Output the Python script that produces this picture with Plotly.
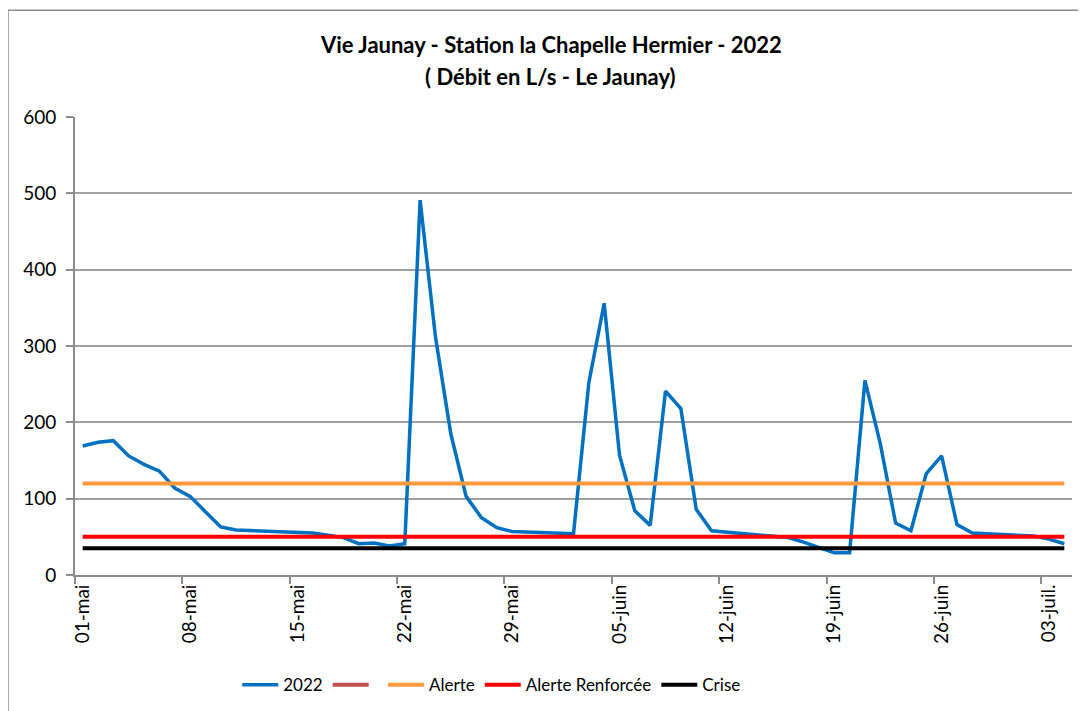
import pandas as pd
import plotly.graph_objects as go

# ---- data ----
dates = pd.date_range("2022-05-01", "2022-07-04", freq="D")

debit_2022 = [169, 174, 176, 156, 145, 136, 114, 103, 83, 63,
              59, 58, 57, 57, 56, 55, 52, 49, 41, 42,
              38, 41, 491, 312, 185, 103, 75, 62, 57, 56,
              55, 54, 54, 252, 356, 157, 84, 65, 241, 218,
              86, 58, 56, 55, 53, 51, 49, 43, 36, 29,
              29, 255, 172, 68, 58, 133, 156, 66, 55, 54,
              53, 52, 51, 47, 41]

ALERTE = 120
ALERTE_RENFORCEE = 50
CRISE = 35

tick_dates = ["2022-05-01", "2022-05-08", "2022-05-15", "2022-05-22", "2022-05-29",
              "2022-06-05", "2022-06-12", "2022-06-19", "2022-06-26", "2022-07-03"]
tick_labels = ["01-mai", "08-mai", "15-mai", "22-mai", "29-mai",
               "05-juin", "12-juin", "19-juin", "26-juin", "03-juil."]

y_ticks = [0, 100, 200, 300, 400, 500, 600]

# ---- figure ----
n = len(dates)
FONT = "Lato"

fig = go.Figure()
fig.add_trace(go.Scatter(x=dates, y=debit_2022, mode="lines", name="2022",
                         line=dict(color="#0070C0", width=3.5)))
fig.add_trace(go.Scatter(x=[None], y=[None], mode="lines", name=" ",
                         line=dict(color="#C0504D", width=4)))
fig.add_trace(go.Scatter(x=dates, y=[ALERTE] * n, mode="lines", name="Alerte",
                         line=dict(color="#FF9A3C", width=4)))
fig.add_trace(go.Scatter(x=dates, y=[ALERTE_RENFORCEE] * n, mode="lines",
                         name="Alerte Renforcée", line=dict(color="#FF0000", width=4)))
fig.add_trace(go.Scatter(x=dates, y=[CRISE] * n, mode="lines", name="Crise",
                         line=dict(color="#000000", width=4)))

boundaries = [d - pd.Timedelta(hours=12) for d in pd.to_datetime(tick_dates)]

# the page places the figure 8px from the top-left corner; margins compensate
fig.update_layout(
    width=1086, height=711,
    margin=dict(l=67, r=21.5, t=109, b=144, autoexpand=False),
    paper_bgcolor="white", plot_bgcolor="white",
    font=dict(family=FONT, size=17, color="black"),
    showlegend=True,
    legend=dict(orientation="h", x=0.418, xanchor="center", y=-0.2405, yanchor="middle",
                font=dict(size=17), itemwidth=36, tracegroupgap=0),
    xaxis=dict(
        type="date",
        range=[dates[0] - pd.Timedelta(hours=12), dates[-1] + pd.Timedelta(hours=12)],
        tickmode="array", tickvals=tick_dates, ticktext=tick_labels,
        tickangle=-90, ticks="", showgrid=False,
        showline=True, linecolor="#8C8C8C", linewidth=2,
        tickfont=dict(size=19),
        minor=dict(tickmode="array", tickvals=boundaries, ticks="outside",
                   ticklen=7, tickcolor="#8C8C8C", tickwidth=1.5, showgrid=False),
        zeroline=False,
    ),
    yaxis=dict(
        range=[0, 600], tickmode="array", tickvals=y_ticks,
        ticks="outside", ticklen=7, tickcolor="#8C8C8C", tickwidth=1.5,
        showgrid=True, gridcolor="#A0A0A0", gridwidth=1.5,
        showline=True, linecolor="#8C8C8C", linewidth=2,
        zeroline=False, tickfont=dict(size=19), ticklabelstandoff=6,
    ),
    annotations=[
        dict(text="<b>Vie Jaunay - Station la Chapelle Hermier - 2022</b>",
             xref="paper", yref="paper", x=0.477, y=1.159, showarrow=False,
             xanchor="center", yanchor="middle", font=dict(size=22, family=FONT)),
        dict(text="<b>( Débit en L/s - Le Jaunay)</b>",
             xref="paper", yref="paper", x=0.477, y=1.089, showarrow=False,
             xanchor="center", yanchor="middle", font=dict(size=22, family=FONT)),
    ],
    shapes=[
        dict(type="rect", xref="paper", yref="paper",
             x0=-0.0672, x1=1.2, y0=-0.5, y1=1.233,
             line=dict(color="#8C8C8C", width=1.5), fillcolor="rgba(0,0,0,0)",
             layer="below"),
    ],
)

fig.write_html("out.html")
